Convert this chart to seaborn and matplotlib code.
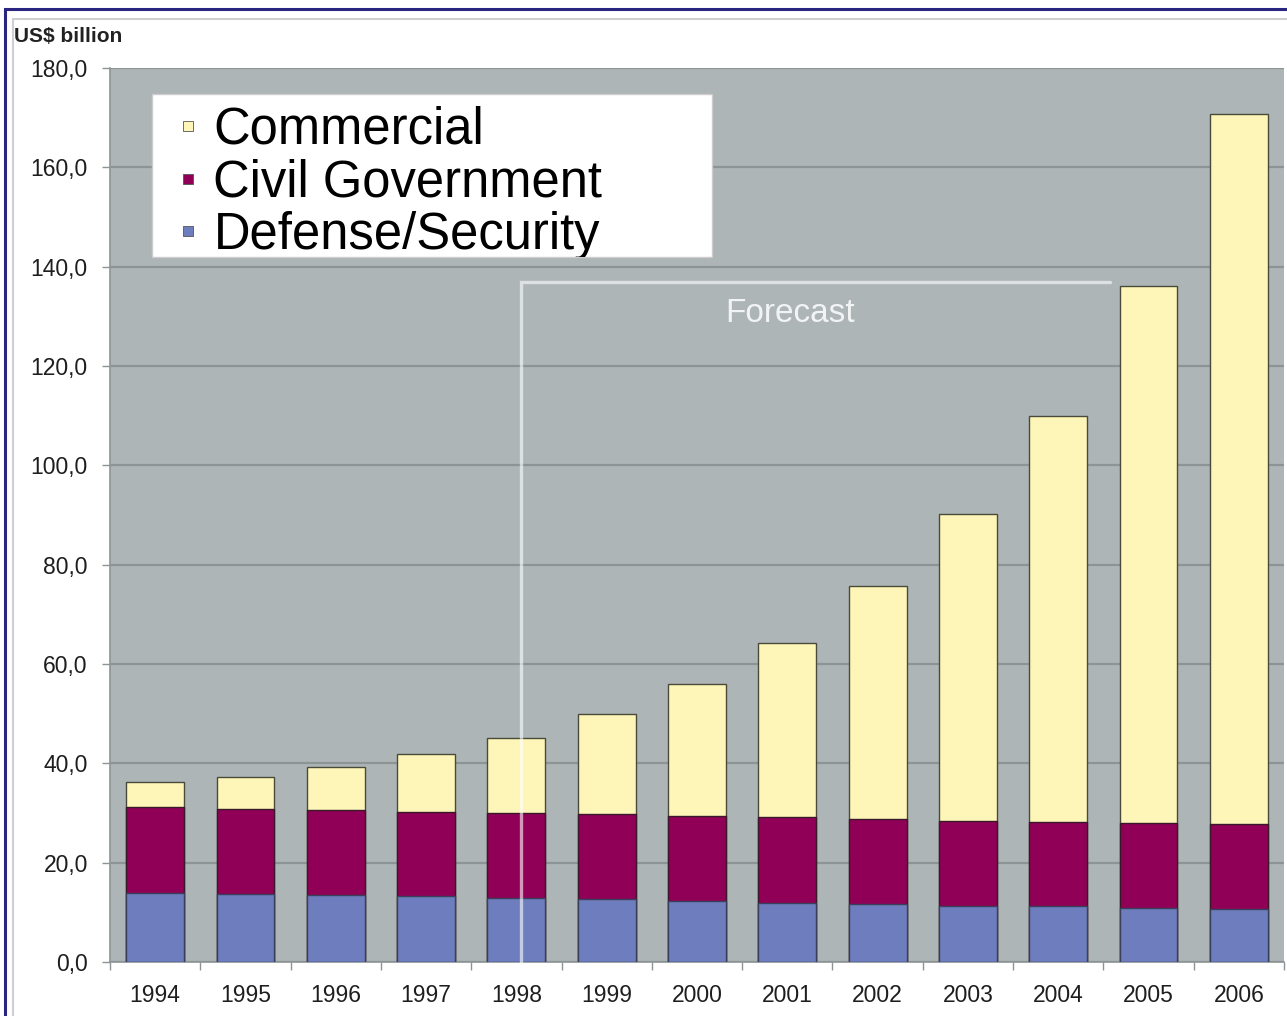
import numpy as np
import pandas as pd
import matplotlib
matplotlib.use("Agg")
import matplotlib.pyplot as plt
from matplotlib.patches import Rectangle
from matplotlib.lines import Line2D
from matplotlib.ticker import FuncFormatter, FixedLocator
import seaborn as sns

# Market size by segment, US$ billion
years = ["1994", "1995", "1996", "1997", "1998", "1999", "2000",
         "2001", "2002", "2003", "2004", "2005", "2006"]
defense = [13.8, 13.7, 13.4, 13.2, 12.8, 12.7, 12.3, 11.9, 11.7, 11.3, 11.3, 10.8, 10.7]
civil = [17.4, 17.2, 17.2, 17.0, 17.3, 17.0, 17.1, 17.2, 17.1, 17.1, 16.9, 17.2, 17.0]
commercial = [5.0, 6.4, 8.7, 11.7, 15.0, 20.2, 26.5, 35.2, 46.9, 61.8, 81.7, 108.1, 143.0]
series_names = ["Commercial", "Civil Government", "Defense/Security"]
y_ticks = [0, 20, 40, 60, 80, 100, 120, 140, 160, 180]

C_COM = "#fef6b8"
C_CIV = "#8f0056"
C_DEF = "#6e7dbd"
BG = "#aeb5b7"
GRID = "#8c9496"

sns.set_theme(style="white")
plt.rcParams["font.family"] = ["Liberation Sans", "DejaVu Sans"]

df = pd.DataFrame({"year": years, "defense": defense, "civil": civil,
                   "commercial": commercial})
df["civil_top"] = df["defense"] + df["civil"]
df["total"] = df["civil_top"] + df["commercial"]

fig = plt.figure(figsize=(12.87, 10.16), dpi=100, facecolor="white")
ax = fig.add_axes([110 / 1287, 1 - 962 / 1016, 1174 / 1287, 894 / 1016])
ax.set_facecolor(BG)

bw = 0.64
sns.barplot(data=df, x="year", y="total", color=C_COM, saturation=1, width=bw,
            edgecolor="#4a4a3a", linewidth=1.0, ax=ax, zorder=2)
sns.barplot(data=df, x="year", y="civil_top", color=C_CIV, saturation=1, width=bw,
            edgecolor="#3a1a2a", linewidth=1.0, ax=ax, zorder=3)
sns.barplot(data=df, x="year", y="defense", color=C_DEF, saturation=1, width=bw,
            edgecolor="#3a3f5a", linewidth=1.0, ax=ax, zorder=4)

ax.set_xlim(-0.5, len(years) - 0.5)
ax.set_ylim(0, 180)
ax.set_xlabel("")
ax.set_ylabel("")

# grid
ax.yaxis.set_major_locator(FixedLocator(y_ticks))
ax.grid(axis="y", color=GRID, linewidth=1.6, zorder=0)
ax.grid(axis="x", visible=False)
ax.set_axisbelow(True)
ax.yaxis.set_major_formatter(FuncFormatter(lambda v, p: f"{v:.1f}".replace(".", ",")))

for s in ["top", "right"]:
    ax.spines[s].set_visible(False)
for s in ["left", "bottom"]:
    ax.spines[s].set_color("#8c9496")
    ax.spines[s].set_linewidth(1.2)

ax.tick_params(axis="y", which="major", left=True, length=6, width=1.0,
               color="#8c9496", labelsize=16.5, labelcolor="#1e1e1e", pad=10)
ax.tick_params(axis="x", which="major", bottom=False, length=0, labelsize=16.5,
               labelcolor="#1e1e1e", pad=16)
ax.xaxis.set_minor_locator(FixedLocator(np.arange(-0.5, len(years), 1.0)))
ax.tick_params(axis="x", which="minor", bottom=True, length=6, width=1.0,
               color="#8c9496")

# forecast bracket
fx0, fx1, fy = 4.05, 10.57, 137.0
ax.plot([fx0, fx0, fx1], [0, fy, fy], color="white", alpha=0.6, linewidth=2.4,
        zorder=6, solid_joinstyle="miter", clip_on=False)
ax.text(7.03, 130.6, "Forecast", color="white", alpha=0.85, fontsize=24,
        ha="center", va="center", zorder=6)

# legend box
box = Rectangle((42 / 1174, (962 - 257) / 894), (712 - 152) / 1174,
                (257 - 94) / 894, transform=ax.transAxes,
                facecolor="white", edgecolor="#cccccc", linewidth=1.0,
                zorder=7)
ax.add_patch(box)
handles = [Line2D([], [], linestyle="none", marker="s", markersize=7.2,
                  markerfacecolor=c, markeredgecolor="#555555",
                  markeredgewidth=0.6) for c in (C_COM, C_CIV, C_DEF)]
leg = ax.legend(handles, series_names, loc="upper left",
                bbox_to_anchor=(73 / 1174, (962 - 106) / 894), borderaxespad=0,
                fontsize=36.5, frameon=False, handlelength=0.2,
                handletextpad=0.4, labelspacing=0.07, borderpad=0)
for t in leg.get_texts():
    t.set_color("black")
    t.set_clip_path(box)
leg.set_zorder(8)

# unit label
fig.text(14 / 1287, 1 - 36 / 1016, "US$ billion", fontsize=15, fontweight="bold",
         color="#222222", ha="left", va="center")

# outer frames
fig.add_artist(Rectangle((13 / 1287, -0.1), 1.2, 1 - 19 / 1016 + 0.1,
                         transform=fig.transFigure, fill=False,
                         edgecolor="#cfcfcf", linewidth=1.5))
fig.add_artist(Rectangle((5 / 1287, -0.1), 1.2, 1 - 9 / 1016 + 0.1,
                         transform=fig.transFigure, fill=False,
                         edgecolor="#2a2580", linewidth=2.2))

fig.savefig("out.png", dpi=100, facecolor="white")
